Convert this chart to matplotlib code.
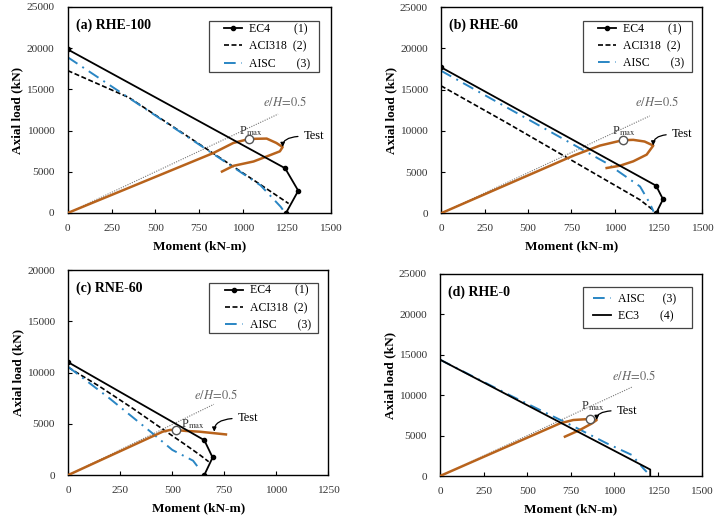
import matplotlib
matplotlib.use("Agg")
import matplotlib.pyplot as plt
from matplotlib.patches import Rectangle

plt.rcParams["font.family"] = "serif"
plt.rcParams["font.serif"] = ["Liberation Serif", "DejaVu Serif"]
plt.rcParams["mathtext.fontset"] = "stix"

ORANGE = "#B8631C"
BLUE = "#2A86C4"
GREY = "#666666"

# ---------------- (a) RHE-100 ----------------
ec4_a_m = [0, 1240, 1315, 1245]
ec4_a_p = [19850, 5430, 2700, 0]
aci_a_m = [0, 350, 1060, 1260]
aci_a_p = [17280, 14000, 4000, 1150]
aisc_a_m = [0, 1100, 1215, 1240]
aisc_a_p = [18900, 3350, 750, 0]
test_a_m = [0, 830, 945, 1036, 1135, 1190, 1226, 1210, 1135, 1060, 945, 880]
test_a_p = [0, 7270, 8500, 8990, 9030, 8500, 8000, 7480, 6860, 6250, 5720, 5030]
pmax_a = (1036, 8990)
eh_a_m = [0, 1200]
eh_a_p = [0, 12000]

# ---------------- (b) RHE-60 ----------------
ec4_b_m = [0, 1236, 1276, 1236]
ec4_b_p = [17700, 3350, 1700, 0]
aci_b_m = [0, 377, 761, 1144, 1225]
aci_b_p = [15450, 10980, 6300, 1630, 300]
aisc_b_m = [0, 950, 1144, 1200, 1222]
aisc_b_p = [17280, 6100, 3250, 1220, 200]
test_b_m = [0, 761, 914, 1044, 1105, 1170, 1220, 1182, 1105, 1029, 952]
test_b_p = [0, 6990, 8210, 8860, 8900, 8700, 8210, 7110, 6300, 5770, 5490]
pmax_b = (1044, 8860)
eh_b_m = [0, 1200]
eh_b_p = [0, 11800]

# ---------------- (c) RNE-60 ----------------
ec4_c_m = [0, 654, 694, 654]
ec4_c_p = [11000, 3400, 1710, 0]
aci_c_m = [0, 150, 310, 470, 560, 630, 675]
aci_c_p = [10500, 8650, 6500, 4250, 3000, 2000, 1300]
aisc_c_m = [0, 200, 400, 500, 600, 630]
aisc_c_p = [10550, 7450, 4150, 2450, 1400, 600]
test_c_m = [0, 454, 490, 518, 566, 630, 758]
test_c_p = [0, 4230, 4400, 4390, 4300, 4230, 3960]
pmax_c = (518, 4390)
eh_c_m = [0, 700]
eh_c_p = [0, 6900]

# ---------------- (d) RHE-0 ----------------
ec3_d_m = [0, 1205, 1205]
ec3_d_p = [14400, 800, 0]
aisc_d_m = [0, 400, 760, 955, 1100, 1165, 1185]
aisc_d_p = [14400, 10000, 6200, 4050, 2600, 950, 500]
test_d_m = [0, 688, 764, 860, 898, 870, 802, 716]
test_d_p = [0, 6520, 6930, 7060, 6930, 6500, 5700, 4870]
pmax_d = (860, 7060)
eh_d_m = [0, 1100]
eh_d_p = [0, 11000]


def draw_common(ax, title, test_m, test_p, pmax, eh_m, eh_p,
                eh_txt, pmax_txt, test_tip, test_txt, xmax, ymax):
    # linea e/H = 0.5 y curva del ensayo
    ax.plot(eh_m, eh_p, color="#777777", lw=0.8, ls=(0, (1, 1.2)), zorder=1)
    ax.plot(test_m, test_p, color=ORANGE, lw=1.8, zorder=3)
    ax.plot(*pmax, marker="o", ms=6, mfc="white", mec="#555555", mew=1.0, zorder=5)
    ax.text(*eh_txt, r"$e/H\!=\!0.5$", color=GREY, fontsize=9, va="center", ha="left")
    ax.text(*pmax_txt, r"P$_{\rm max}$", color="#333333", fontsize=9, va="center", ha="left")
    ax.annotate("Test", xy=test_tip, xytext=test_txt, fontsize=9, va="center", ha="left",
                arrowprops=dict(arrowstyle="-|>", color="black", lw=0.9, mutation_scale=6,
                                connectionstyle="angle3,angleA=0,angleB=90",
                                relpos=(0, 0.5), shrinkA=2, shrinkB=0))
    ax.text(0.03, 0.91, title, transform=ax.transAxes, fontsize=10, fontweight="bold",
            va="center", ha="left")
    ax.set_xlim(0, xmax)
    ax.set_ylim(0, ymax)
    ax.set_xticks(range(0, xmax + 1, 250))
    ax.set_yticks(range(0, ymax + 1, 5000))
    ax.tick_params(direction="in", length=3, labelsize=8.2, colors="black",
                   labelcolor="#333333")
    ax.tick_params(axis="x", pad=8)
    ax.tick_params(axis="y", pad=9.5)
    for s in ax.spines.values():
        s.set_linewidth(1.0)
    ax.set_xlabel("Moment (kN-m)", fontsize=9.5, fontweight="bold", labelpad=5)
    ax.set_ylabel("Axial load (kN)", fontsize=9.5, fontweight="bold", labelpad=2)


def add_legend(ax, box, handle_x):
    # marco dibujado aparte para tener el relleno horizontal del original
    x0, y0, w, h = box
    ax.add_patch(Rectangle((x0, y0), w, h, transform=ax.transAxes, fill=True,
                           facecolor="white", edgecolor="#444444", lw=0.9, zorder=6))
    leg = ax.legend(loc="center left", bbox_to_anchor=(handle_x, y0 + h / 2),
                    borderaxespad=0, borderpad=0, fontsize=8.5, frameon=False,
                    handlelength=1.5, handletextpad=0.6, labelspacing=0.45, numpoints=1)
    leg.set_zorder(7)
    return leg


def draw_codes(ax, ec4_m, ec4_p, aci_m, aci_p, aisc_m, aisc_p):
    ax.plot(ec4_m, ec4_p, color="black", lw=1.3, marker="o", ms=3,
            label="EC4        (1)", zorder=4)
    ax.plot(aci_m, aci_p, color="black", lw=1.2, ls=(0, (3, 1.5)),
            label="ACI318  (2)", zorder=2)
    ax.plot(aisc_m, aisc_p, color=BLUE, lw=1.4, ls=(0, (6, 3, 1, 3)),
            label="AISC       (3)", zorder=2)


fig = plt.figure(figsize=(7.15, 5.2), dpi=100)
ax_a = fig.add_axes([0.0947, 0.5904, 0.3678, 0.3962])
ax_b = fig.add_axes([0.6168, 0.5898, 0.3650, 0.3967])
ax_c = fig.add_axes([0.0955, 0.0865, 0.3636, 0.3942])
ax_d = fig.add_axes([0.6154, 0.0846, 0.3660, 0.3885])

# (a)
draw_codes(ax_a, ec4_a_m, ec4_a_p, aci_a_m, aci_a_p, aisc_a_m, aisc_a_p)
draw_common(ax_a, "(a) RHE-100", test_a_m, test_a_p, pmax_a, eh_a_m, eh_a_p,
            (1116, 13500), (975, 9950), (1226, 8000), (1345, 9314), 1500, 25000)
add_legend(ax_a, (0.537, 0.684, 0.418, 0.248), 0.594)

# (b)
draw_codes(ax_b, ec4_b_m, ec4_b_p, aci_b_m, aci_b_p, aisc_b_m, aisc_b_p)
draw_common(ax_b, "(b) RHE-60", test_b_m, test_b_p, pmax_b, eh_b_m, eh_b_p,
            (1115, 13500), (980, 9950), (1220, 8210), (1326, 9553), 1500, 25000)
add_legend(ax_b, (0.543, 0.686, 0.418, 0.247), 0.603)

# (c)
draw_codes(ax_c, ec4_c_m, ec4_c_p, aci_c_m, aci_c_p, aisc_c_m, aisc_c_p)
draw_common(ax_c, "(c) RNE-60", test_c_m, test_c_p, pmax_c, eh_c_m, eh_c_p,
            (606, 7800), (540, 4950), (702, 4228), (814, 5528), 1250, 20000)
add_legend(ax_c, (0.541, 0.691, 0.419, 0.247), 0.603)

# (d)
ax_d.plot(aisc_d_m, aisc_d_p, color=BLUE, lw=1.4, ls=(0, (6, 3, 1, 3)),
          label="AISC      (3)", zorder=2)
ax_d.plot(ec3_d_m, ec3_d_p, color="black", lw=1.3, label="EC3       (4)", zorder=4)
draw_common(ax_d, "(d) RHE-0", test_d_m, test_d_p, pmax_d, eh_d_m, eh_d_p,
            (984, 12400), (808, 8700), (898, 6930), (1012, 8089), 1500, 25000)
add_legend(ax_d, (0.545, 0.731, 0.4165, 0.206), 0.586)

fig.savefig("out.png", dpi=100)
